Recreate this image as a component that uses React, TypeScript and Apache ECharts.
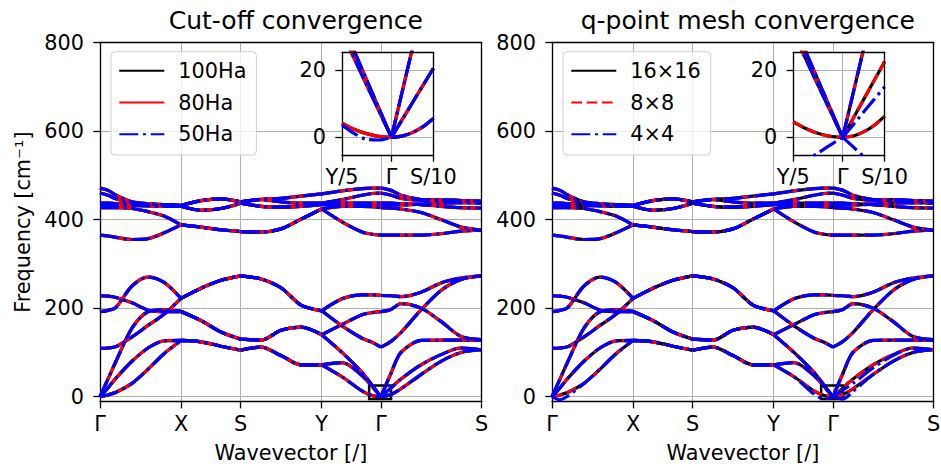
import React, { useEffect, useRef } from "react";
import * as echarts from "echarts";

const FONT = "DejaVu Sans";

// high-symmetry points along the path (x data units)
const SYM_POS = [0, 81, 140.7, 221.7, 281, 381.7];
const SYM_LABELS = ["Γ", "X", "S", "Y", "Γ", "S"];

// sample positions along the path; indices 6, 9, 13, 17 are X, S, Y, Γ
const Q = [0, 8, 16, 32, 48, 64, 81, 101, 121, 140.7, 161, 181, 201, 221.7, 242, 262, 272, 281, 291, 301, 321, 341, 361, 381.7];
const SEG_BREAKS = [6, 9, 13, 17];

// phonon branches [cm^-1] at the positions in Q
const BAND_01 = [0, 4, 10, 30, 62, 97, 127, 124, 114, 105, 112, 93, 72, 72, 45, 13, 2.5, 0, 5, 18, 50, 80, 100, 106];
const BAND_02 = [0, 20, 42, 80, 110, 126, 127, 124, 114, 105, 112, 93, 72, 72, 77, 48, 23, 0, 20, 40, 72, 95, 110, 106];
const BAND_03 = [0, 40, 80, 155, 192, 196, 193, 172, 146, 130, 128, 150, 157, 140, 100, 55, 26, 0, 53, 100, 127, 128, 128, 128];
const BAND_04 = [109, 110, 113, 135, 161, 186, 222, 245, 263, 273, 266, 246, 207, 194, 160, 132, 123, 112, 125, 145, 196, 240, 265, 273];
const BAND_05 = [192, 195, 202, 250, 270, 258, 222, 245, 263, 273, 266, 246, 207, 194, 221, 230, 230, 229, 228, 226, 236, 257, 268, 273];
const BAND_06 = [228, 227, 224, 212, 196, 192, 192, 172, 146, 130, 128, 150, 157, 140, 163, 185, 190, 192, 197, 210, 200, 170, 136, 129];
const BAND_07 = [365, 363, 360, 355, 357, 370, 388, 383, 377, 373, 372, 379, 401, 424, 395, 372, 367, 365, 365, 365, 365, 368, 374, 376];
const BAND_08 = [427, 427, 427, 425, 418, 408, 388, 383, 377, 373, 372, 379, 401, 424, 430, 430, 429, 427, 426, 424, 416, 400, 383, 376];
const BAND_09 = [433, 433, 433, 432, 431, 430, 430, 421, 425, 437, 430, 428, 430, 434, 434, 433, 433, 433, 433, 433, 435, 437, 438, 437];
const BAND_10 = [437, 437, 436, 435, 433, 431, 430, 421, 425, 437, 430, 428, 432, 436, 437, 437, 437, 437, 437, 436, 434, 430, 427, 426];
const BAND_11 = [460, 455, 447, 437, 434, 432, 432, 443, 447, 440, 445, 440, 437, 437, 445, 455, 459, 460, 455, 448, 444, 445, 443, 441];
const BAND_12 = [471, 466, 455, 440, 436, 434, 432, 443, 447, 440, 446, 448, 453, 458, 465, 470, 471, 471, 466, 455, 445, 443, 442, 441];
const BANDS = [BAND_01, BAND_02, BAND_03, BAND_04, BAND_05, BAND_06, BAND_07, BAND_08, BAND_09, BAND_10, BAND_11, BAND_12];

// 4×4 q-mesh: the two lowest branches deviate near Γ
const BAND_01_Q4 = [0, -7, 2, 30, 62, 97, 127, 124, 114, 105, 112, 93, 72, 72, 45, 6, -5, 0, -5, 12, 50, 80, 100, 106];
const BAND_02_Q4 = [0, 20, 42, 80, 110, 126, 127, 124, 114, 105, 112, 93, 72, 72, 77, 48, 23, 0, 15, 30, 65, 93, 110, 106];
const BANDS_Q4 = [BAND_01_Q4, BAND_02_Q4, BAND_03, BAND_04, BAND_05, BAND_06, BAND_07, BAND_08, BAND_09, BAND_10, BAND_11, BAND_12];

const LEGEND_CUTOFF = ["100Ha", "80Ha", "50Ha"];
const LEGEND_QMESH = ["16×16", "8×8", "4×4"];
const TITLES = ["Cut-off convergence", "q-point mesh convergence"];

const Y_TICKS = [0, 200, 400, 600, 800];

// inset: zoom around Γ, x offsets from Γ in path units (Y/5 ... S/10)
const GAMMA = 281;
const INSET_X = [-11.86, -9, -6, -3, 0, 2.5, 5, 7.5, 10.07];
const INSET_Y_TICKS = [0, 20];
const INSET_Y_RANGE = [-5.25, 25.25];
const INSET_LABELS = ["Y/5", "Γ", "S/10"];

const CUT_ZA = [4.2, 2.4, 1.1, 0.3, 0, 0.35, 1.4, 3.1, 5.6];
const CUT_ZA_50 = [3.7, 1.2, -0.6, -0.8, 0, 0.35, 1.4, 3.1, 5.6];
const CUT_TA = [31, 23.6, 15.7, 7.9, 0, 5.1, 10.2, 15.3, 20.5];
const CUT_LA = [34, 25.8, 17.2, 8.6, 0, 13.1, 26.2, 39, 52];

const QM_ZA = [4.6, 2.7, 1.2, 0.3, 0, 0.4, 1.6, 3.5, 6.3];
const QM_TA = [31, 23.6, 15.7, 7.9, 0, 5.6, 11.2, 16.8, 22.5];
const QM_LA = [34, 25.8, 17.2, 8.6, 0, 13.1, 26.2, 39, 52];
const QM4_NEG = [-9.3, -7, -4.7, -2.3, 0, -2.8, -5.7, -8.5, -11.4];
const QM4_TA = [31, 23.6, 15.7, 7.9, 0, 3.7, 7.5, 11.2, 15];

const INSET_CUT = [[CUT_ZA, CUT_TA, CUT_LA], [CUT_ZA, CUT_TA, CUT_LA], [CUT_ZA_50, CUT_TA, CUT_LA]];
const INSET_QM = [[QM_ZA, QM_TA, QM_LA], [QM_ZA, QM_TA, QM_LA], [QM4_NEG, QM4_TA, QM_LA]];

const LW = 3.2;
const DASH = [10.7, 4.6];
const DASHDOT = [19, 4.7, 3, 4.7];
const COLORS = ["#000000", "#ff0000", "#0000ff"];
const LINE_TYPES: any[][] = [
  ["solid", "solid", DASHDOT],
  ["solid", DASH, DASHDOT],
];

function segData(xs: number[], ys: number[], breaks: number[]) {
  const out: any[] = [];
  for (let i = 0; i < xs.length; i++) {
    out.push([xs[i], ys[i]]);
    if (breaks.includes(i)) {
      out.push([xs[i], "-"]);
      out.push([xs[i], ys[i]]);
    }
  }
  return out;
}

function closestLabel(v: number, pos: number[], labels: string[]) {
  let best = 0;
  for (let i = 1; i < pos.length; i++) if (Math.abs(pos[i] - v) < Math.abs(pos[best] - v)) best = i;
  return labels[best];
}

const TXT = { fontFamily: FONT, fontSize: 20.8, color: "#000" };
const BLACK_LINE = { color: "#000", width: 1.3 };
const GRID_LINE = { color: "#b0b0b0", width: 1.1 };

export default function App() {
  const ref = useRef<HTMLDivElement>(null);
  useEffect(() => {
    document.body.style.margin = "0";
    const chart = echarts.init(ref.current!, null, { renderer: "svg" });

    const mainLeft = [100, 552];
    const mainTop = 42.5;
    const mainW = 381.7;
    const mainH = 359.2;
    const yMin = -11.3;
    const insetLeft = [342, 793.3];
    const insetTop = 52.3;
    const insetW = 91.4;
    const insetH = 102.7;
    const ixMin = GAMMA + INSET_X[0];
    const ixMax = GAMMA + INSET_X[INSET_X.length - 1];

    const grid: any[] = [
      { left: mainLeft[0], top: mainTop, width: mainW, height: mainH, outerBoundsMode: "none" },
      { left: mainLeft[1], top: mainTop, width: mainW, height: mainH, outerBoundsMode: "none" },
      { left: insetLeft[0], top: insetTop, width: insetW, height: insetH, show: true, backgroundColor: "#fff", borderWidth: 0, z: 4, outerBoundsMode: "none" },
      { left: insetLeft[1], top: insetTop, width: insetW, height: insetH, show: true, backgroundColor: "#fff", borderWidth: 0, z: 4, outerBoundsMode: "none" },
    ];

    const xAxis: any[] = [];
    const yAxis: any[] = [];
    for (let p = 0; p < 2; p++) {
      xAxis.push({
        type: "value", gridIndex: p, min: 0, max: SYM_POS[SYM_POS.length - 1], z: 1,
        axisLine: { show: true, onZero: false, lineStyle: BLACK_LINE },
        axisTick: { show: true, length: 6.7, lineStyle: BLACK_LINE, customValues: SYM_POS },
        axisLabel: { ...TXT, margin: 12, customValues: SYM_POS, formatter: (v: number) => closestLabel(v, SYM_POS, SYM_LABELS) },
        splitLine: { show: true, lineStyle: GRID_LINE },
        name: "Wavevector [/]", nameLocation: "middle", nameGap: 41, nameTextStyle: { ...TXT },
      });
      yAxis.push({
        type: "value", gridIndex: p, min: yMin, max: 800, z: 1,
        axisLine: { show: true, onZero: false, lineStyle: BLACK_LINE },
        axisTick: { show: true, length: 6.7, lineStyle: BLACK_LINE, customValues: Y_TICKS },
        axisLabel: { ...TXT, margin: 16, customValues: Y_TICKS },
        splitLine: { show: true, lineStyle: GRID_LINE },
        name: p === 0 ? "Frequency [cm⁻¹]" : "", nameLocation: "middle", nameGap: 67, nameTextStyle: { ...TXT },
      });
    }
    for (let p = 0; p < 2; p++) {
      xAxis.push({
        type: "value", gridIndex: 2 + p, min: ixMin, max: ixMax, z: 5,
        axisLine: { show: true, onZero: false, lineStyle: BLACK_LINE },
        axisTick: { show: true, length: 6.7, lineStyle: BLACK_LINE, customValues: [ixMin, GAMMA, ixMax] },
        axisLabel: { ...TXT, margin: 11, customValues: [ixMin, GAMMA, ixMax], formatter: (v: number) => closestLabel(v, [ixMin, GAMMA, ixMax], INSET_LABELS) },
        splitLine: { show: true, lineStyle: GRID_LINE },
      });
      yAxis.push({
        type: "value", gridIndex: 2 + p, min: INSET_Y_RANGE[0], max: INSET_Y_RANGE[1], z: 5,
        axisLine: { show: true, onZero: false, lineStyle: BLACK_LINE },
        axisTick: { show: true, length: 6.7, lineStyle: BLACK_LINE, customValues: INSET_Y_TICKS },
        axisLabel: { ...TXT, margin: 16, customValues: INSET_Y_TICKS },
        splitLine: { show: true, lineStyle: GRID_LINE },
      });
    }
    // frame (top / right spines)
    const frameRanges = [
      [0, SYM_POS[SYM_POS.length - 1], yMin, 800, 3],
      [0, SYM_POS[SYM_POS.length - 1], yMin, 800, 3],
      [ixMin, ixMax, INSET_Y_RANGE[0], INSET_Y_RANGE[1], 7],
      [ixMin, ixMax, INSET_Y_RANGE[0], INSET_Y_RANGE[1], 7],
    ];
    frameRanges.forEach((r, g) => {
      const common = { axisTick: { show: false }, axisLabel: { show: false }, splitLine: { show: false } };
      xAxis.push({ type: "value", gridIndex: g, position: "top", min: r[0], max: r[1], z: r[4], axisLine: { show: true, onZero: false, lineStyle: BLACK_LINE }, ...common });
      yAxis.push({ type: "value", gridIndex: g, position: "right", min: r[2], max: r[3], z: r[4], axisLine: { show: true, onZero: false, lineStyle: BLACK_LINE }, ...common });
    });

    const series: any[] = [];
    [LEGEND_CUTOFF, LEGEND_QMESH].forEach((names, p) => {
      series.push({
        type: "line", xAxisIndex: p, yAxisIndex: p, data: [], z: 1.5, silent: true,
        markArea: {
          silent: true,
          itemStyle: { color: "rgba(0,0,0,0)", borderColor: "#000", borderWidth: 2.5 },
          data: [[{ xAxis: ixMin, yAxis: INSET_Y_RANGE[0] }, { xAxis: ixMax, yAxis: INSET_Y_RANGE[1] }]],
        },
      });
      names.forEach((name, s) => {
        const bands = p === 1 && s === 2 ? BANDS_Q4 : BANDS;
        bands.forEach((b) => {
          series.push({
            type: "line", name, xAxisIndex: p, yAxisIndex: p, data: segData(Q, b, SEG_BREAKS),
            smooth: 0.3, symbol: "none", showSymbol: false, silent: true, z: 2,
            lineStyle: { color: COLORS[s], width: LW, type: LINE_TYPES[p][s] },
            itemStyle: { color: COLORS[s] },
          });
        });
      });
      const inset = p === 0 ? INSET_CUT : INSET_QM;
      names.forEach((name, s) => {
        inset[s].forEach((br) => {
          series.push({
            type: "line", name, xAxisIndex: 2 + p, yAxisIndex: 2 + p,
            data: segData(INSET_X.map((d) => GAMMA + d), br, [4]),
            smooth: 0.3, symbol: "none", showSymbol: false, silent: true, z: 6, clip: true,
            lineStyle: { color: COLORS[s], width: LW, type: LINE_TYPES[p][s] },
            itemStyle: { color: COLORS[s] },
          });
        });
      });
    });

    const legendBase = {
      orient: "vertical", top: 51.7, itemWidth: 45, itemHeight: 14, itemGap: 9.7,
      padding: [8.1, 10, 9.8, 7.3], backgroundColor: "rgba(255,255,255,0.8)",
      borderColor: "#d0d0d0", borderWidth: 1, borderRadius: 4, selectedMode: false,
      itemStyle: { opacity: 0, borderWidth: 0 },
      textStyle: { ...TXT, lineHeight: 22, padding: [0, 0, 0, 9] },
    };

    chart.setOption({
      animation: false,
      backgroundColor: "#fff",
      title: [
        { text: TITLES[0], left: mainLeft[0] + mainW / 2, top: 3, textAlign: "center", textStyle: { fontFamily: FONT, fontSize: 25, fontWeight: "normal", color: "#000" } },
        { text: TITLES[1], left: mainLeft[1] + mainW / 2, top: 3, textAlign: "center", textStyle: { fontFamily: FONT, fontSize: 25, fontWeight: "normal", color: "#000" } },
      ],
      legend: [
        { ...legendBase, left: 111, data: LEGEND_CUTOFF },
        { ...legendBase, left: 563, data: LEGEND_QMESH },
      ],
      grid, xAxis, yAxis, series,
    });
    return () => chart.dispose();
  }, []);
  return <div ref={ref} style={{ width: 941, height: 470, background: "#fff" }} />;
}
